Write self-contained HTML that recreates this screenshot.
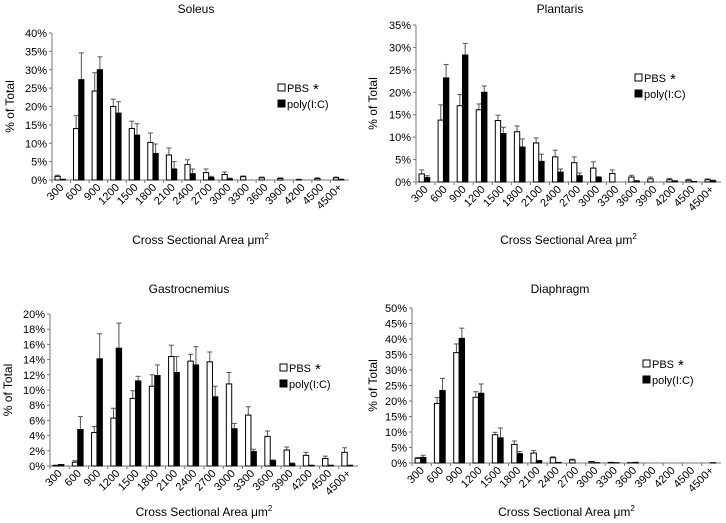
<!DOCTYPE html>
<html><head><meta charset="utf-8"><style>
body{margin:0;background:#fff;}
svg{display:block;font-family:"Liberation Sans",Arial,sans-serif;}
</style></head><body>
<svg id="c" width="726" height="523" viewBox="0 0 726 523"></svg>
<script>
const categories=["300","600","900","1200","1500","1800","2100","2400","2700","3000","3300","3600","3900","4200","4500","4500+"];
const soleusPBS=[1,14,24.2,20,14,10.2,6.8,4.2,2,1.5,0.9,0.6,0.4,0.1,0.4,0.6];
const soleusPBSErr=[0.3,3.5,5,2,2,2.6,1.9,1.3,1,0.7,0.2,0.2,0.2,0.1,0.2,0.2];
const soleusPoly=[0.2,27.3,30,18.2,12.2,7.2,3,1.7,0.7,0.3,0,0,0,0,0,0.2];
const soleusPolyErr=[0,7.3,3.5,3.1,3.1,2.6,2,1.3,0.3,0.2,0,0,0,0,0,0];
const plantarisPBS=[1.8,13.8,17,16.1,13.7,11.2,8.7,5.6,4.3,3.1,1.9,1.1,0.7,0.5,0.4,0.5];
const plantarisPBSErr=[0.9,3.4,2.5,1.3,1.2,1.3,1.1,1.5,1.3,1.4,0.8,0.4,0.4,0.3,0.2,0.2];
const plantarisPoly=[1,23.2,28.3,20,10.8,7.8,4.6,2.2,1.4,1,0,0.2,0,0.2,0.1,0.3];
const plantarisPolyErr=[0.4,3,2.6,1.4,1.4,1.8,1.6,0.7,0.6,0.2,0,0.1,0,0.1,0,0.1];
const gastroPBS=[0.1,0.5,4.4,6.3,8.9,10.5,14.4,13.8,13.7,10.8,6.7,3.9,2.1,1.4,1,1.8];
const gastroPBSErr=[0,0.2,0.8,1.3,1,1.5,1.5,0.9,1.3,1.5,1.1,0.7,0.4,0.4,0.3,0.6];
const gastroPoly=[0.2,4.8,14.1,15.5,11.2,11.9,12.3,13.3,9.1,4.9,1.9,0.7,0.3,0.1,0.1,0.1];
const gastroPolyErr=[0,1.7,3.3,3.3,0.6,1.4,2.1,2.4,1.4,0.7,0.3,0.1,0.1,0,0,0];
const diaPBS=[1.5,19.2,35.6,21.2,9.1,6,3.2,1.7,1,0.4,0.2,0.1,0,0,0,0];
const diaPBSErr=[0.3,1.9,2.8,1.8,0.8,1.1,0.8,0.3,0.2,0.1,0,0,0,0,0,0];
const diaPoly=[1.8,23.4,40.2,22.5,8.1,3,0.7,0.2,0,0.1,0.1,0.2,0,0,0,0.1];
const diaPolyErr=[0.7,3.9,3.3,3,3.2,0.7,0.1,0,0,0,0,0,0,0,0,0];

const NS="http://www.w3.org/2000/svg";
const svg=document.getElementById('c');
function mk(tag,attrs,parent,text){const e=document.createElementNS(NS,tag);for(const k in attrs)e.setAttribute(k,attrs[k]);if(text!==undefined)e.textContent=text;(parent||svg).appendChild(e);return e;}

function panel(p){
  const g=mk('g',{});
  
  
  const y=v=>p.y0-(v/p.max)*(p.y0-p.yTop);
  const w=(p.xR-p.x0)/categories.length;
  const t=mk('text',{x:p.tx,y:p.ty,'font-size':12,'text-anchor':'middle',fill:'#000'},g,p.title);
  
  
  // y ticks
  for(let v=0;v<=p.max+1e-9;v+=p.step){
    const yy=y(v);
    const tl=mk('text',{x:p.x0-5,y:yy+4,'font-size':11,'text-anchor':'end',fill:'#000'},g,Math.round(v)+'%');
    
    
    mk('line',{x1:p.x0-3,x2:p.x0,y1:yy,y2:yy,stroke:'#777','stroke-width':1},g);
  }
  const ax=mk('line',{x1:p.x0,x2:p.x0,y1:p.yTop,y2:p.y0,stroke:'#777','stroke-width':1},g);
  
  
  const xa=mk('line',{x1:p.x0,x2:p.xR,y1:p.y0,y2:p.y0,stroke:'#777','stroke-width':1},g);
  
  
  const bw=w*0.28;
  categories.forEach((c,i)=>{
    const cx=p.x0+i*w;
    mk('line',{x1:cx,x2:cx,y1:p.y0,y2:p.y0+3,stroke:'#777'},g);
    const lx=cx+w/2+3, ly=p.y0+8;
    const tl=mk('text',{x:lx,y:ly,'font-size':11,'text-anchor':'end',fill:'#000',transform:`rotate(-45 ${lx} ${ly})`},g,c);
    
    
    [[p.pbs,p.pbsErr,'#fff',cx+w*0.16,'pbs'],[p.poly,p.polyErr,'#000',cx+w*0.16+bw,'poly']].forEach(([vals,errs,fill,bx,nm])=>{
      const v=vals[i];
      const top=y(v+errs[i]);
      if(errs[i]>0){
        mk('line',{x1:bx+bw/2,x2:bx+bw/2,y1:y(v),y2:top,stroke:'#555','stroke-width':1},g);
        mk('line',{x1:bx+bw/2-2.5,x2:bx+bw/2+2.5,y1:top,y2:top,stroke:'#555','stroke-width':1},g);
      }
      const r=mk('rect',{x:bx,y:y(v),width:bw,height:Math.max(0,p.y0-y(v)),fill:fill,stroke:'#000','stroke-width':1},g);
      
      
    });
  });
  const yt=mk('text',{x:0,y:0,'font-size':12,'text-anchor':'middle',fill:'#000',transform:`translate(${p.yx} ${(p.y0+p.yTop)/2}) rotate(-90)`},g,'% of Total');
  
  
  const xt=mk('text',{x:(p.x0+p.xR)/2,y:p.xty,'font-size':12,'text-anchor':'middle',fill:'#000'},g);
  
  
  xt.textContent='Cross Sectional Area μm';
  mk('tspan',{'font-size':8,dy:-5},xt,'2');
  // legend
  const lg=mk('g',{},g);
  
  
  mk('rect',{x:p.lx,y:p.ly-8,width:7,height:7,fill:'#fff',stroke:'#000'},lg);
  const l1=mk('text',{x:p.lx+9,y:p.ly,'font-size':11,fill:'#000'},lg,'PBS');
  
  
  mk('text',{x:p.lx+35,y:p.ly+2,'font-size':15,fill:'#000'},lg,'*');
  mk('rect',{x:p.lx,y:p.ly+16-8,width:7,height:7,fill:'#000',stroke:'#000'},lg);
  const l2=mk('text',{x:p.lx+9,y:p.ly+16,'font-size':11,fill:'#000'},lg,'poly(I:C)');
  
  
}
panel({key:'soleus',title:'Soleus',pbs:soleusPBS,pbsErr:soleusPBSErr,poly:soleusPoly,polyErr:soleusPolyErr,max:40,step:5,x0:52,xR:349,yTop:33,y0:180,tx:196,ty:13,yx:14,xty:244,lx:278,ly:92});
panel({key:'plantaris',title:'Plantaris',pbs:plantarisPBS,pbsErr:plantarisPBSErr,poly:plantarisPoly,polyErr:plantarisPolyErr,max:35,step:5,x0:416,xR:721,yTop:25,y0:182,tx:560,ty:13,yx:377,xty:244,lx:635,ly:82});
panel({key:'gastrocnemius',title:'Gastrocnemius',pbs:gastroPBS,pbsErr:gastroPBSErr,poly:gastroPoly,polyErr:gastroPolyErr,max:20,step:2,x0:50,xR:358,yTop:314,y0:466,tx:189,ty:293,yx:12,xty:516,lx:280,ly:372});
panel({key:'diaphragm',title:'Diaphragm',pbs:diaPBS,pbsErr:diaPBSErr,poly:diaPoly,polyErr:diaPolyErr,max:50,step:5,x0:412,xR:721,yTop:308,y0:463,tx:560,ty:293,yx:377,xty:516,lx:643,ly:368});
</script>
</body></html>
